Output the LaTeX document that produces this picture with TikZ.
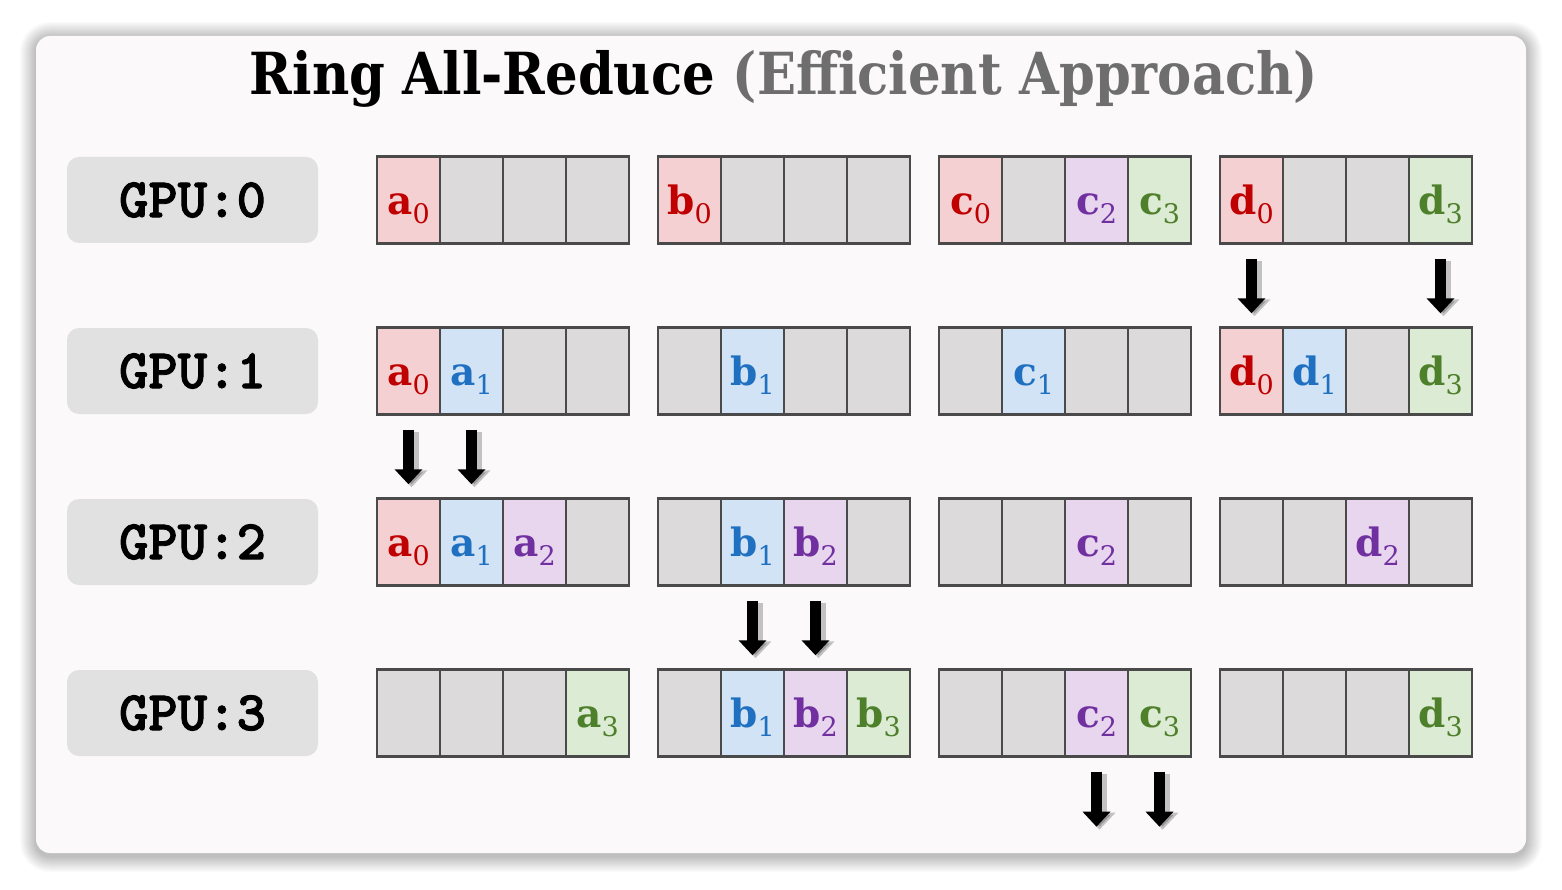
\documentclass[tikz,border=0pt]{standalone}
\usepackage{fontspec}
\setmainfont{DejaVu Serif}
\newfontfamily\titlefont{DejaVu Serif Condensed}
\newfontfamily\gpufont{lmmonolt10-bold}[Extension=.otf, FakeBold=1.6]
\usetikzlibrary{arrows.meta}
\definecolor{panel}{HTML}{FBF9FA}
\definecolor{gpugray}{HTML}{E1E1E1}
\definecolor{cellgray}{HTML}{DCDADB}
\definecolor{border}{HTML}{4A4A4A}
\definecolor{tgray}{HTML}{6E6E6E}
\definecolor{fill0}{HTML}{F4D0D3}
\definecolor{txt0}{HTML}{C00000}
\definecolor{fill1}{HTML}{D2E3F5}
\definecolor{txt1}{HTML}{1F70C1}
\definecolor{fill2}{HTML}{E8D5EE}
\definecolor{txt2}{HTML}{7030A0}
\definecolor{fill3}{HTML}{DCEBD3}
\definecolor{txt3}{HTML}{4E7F2A}
\newcommand\lbl[2]{\if x#2\else\textbf{#1}\raisebox{-9pt}{\fontsize{27}{27}\selectfont #2}\fi}
\newcommand\cellrow[2]{%
  \foreach \L/\D [count=\i from 0] in {#2}{%
    \pgfmathtruncatemacro\g{floor(\i/4)}%
    \pgfmathtruncatemacro\k{mod(\i,4)}%
    \pgfmathsetmacro\cx{408.5+281*\g+63*\k}%
    \pgfmathsetmacro\cy{200+171*#1}%
    \node[cell, k\D] (c#1-\i) at (\cx,\cy) {\lbl\L\D};
  }}
\newcommand\dnarrow[2]{%
  \draw[arrsh] ([shift={(3pt,-16pt)}]#1.south) -- ([shift={(3pt,10pt)}]#2);
  \draw[arr] ([yshift=-14pt]#1.south) -- ([yshift=13pt]#2);}
\tikzset{
  cell/.style={rectangle, draw=border, line width=2.4pt, minimum width=63pt,
    minimum height=87pt, inner sep=0pt, text height=30pt, text depth=1pt,
    font=\fontsize{39}{39}\selectfont},
  kx/.style={fill=cellgray},
  k0/.style={fill=fill0, text=txt0},
  k1/.style={fill=fill1, text=txt1},
  k2/.style={fill=fill2, text=txt2},
  k3/.style={fill=fill3, text=txt3},
  gpubox/.style={fill=gpugray, rounded corners=12pt, minimum width=251pt,
    minimum height=86pt, inner sep=0pt, font=\gpufont\fontsize{56}{56}\selectfont},
  arr/.style={draw=black, line width=11pt, -{Triangle[width=27pt,length=15pt]}},
  arrsh/.style={draw=black, opacity=0.22, line width=14pt, -{Triangle[width=31pt,length=17pt]}},
}
\begin{document}
\begin{tikzpicture}[x=1pt,y=-1pt]
\useasboundingbox (0,0) rectangle (1562,890);
\fill[white] (0,0) rectangle (1562,890);
\foreach \s in {1,...,16}{
  \pgfmathsetmacro\rc{14+\s}
  \fill[black, opacity=0.016, rounded corners=\rc pt] (36-\s,38-\s) rectangle (1526+\s,856+\s);
}
\fill[panel, rounded corners=14pt] (36,36) rectangle (1526,853);
\node[anchor=base, inner sep=0pt] (title) at (784,95) {\scalebox{0.982}[1]{\titlefont\bfseries\fontsize{58}{58}\selectfont Ring All-Reduce {\color{tgray}(Efficient Approach)}}};
\node[gpubox] (gpu0) at (192.5,200) {GPU:0};
\node[gpubox] (gpu1) at (192.5,371) {GPU:1};
\node[gpubox] (gpu2) at (192.5,542) {GPU:2};
\node[gpubox] (gpu3) at (192.5,713) {GPU:3};
\cellrow{0}{a/0,x/x,x/x,x/x,b/0,x/x,x/x,x/x,c/0,x/x,c/2,c/3,d/0,x/x,x/x,d/3}
\cellrow{1}{a/0,a/1,x/x,x/x,x/x,b/1,x/x,x/x,x/x,c/1,x/x,x/x,d/0,d/1,x/x,d/3}
\cellrow{2}{a/0,a/1,a/2,x/x,x/x,b/1,b/2,x/x,x/x,x/x,c/2,x/x,x/x,x/x,d/2,x/x}
\cellrow{3}{x/x,x/x,x/x,a/3,x/x,b/1,b/2,b/3,x/x,x/x,c/2,c/3,x/x,x/x,x/x,d/3}
\coordinate (out10) at ([yshift=-82pt]c3-10.south);
\coordinate (out11) at ([yshift=-82pt]c3-11.south);
\dnarrow{c0-12}{c1-12.north}
\dnarrow{c0-15}{c1-15.north}
\dnarrow{c1-0}{c2-0.north}
\dnarrow{c1-1}{c2-1.north}
\dnarrow{c2-5}{c3-5.north}
\dnarrow{c2-6}{c3-6.north}
\dnarrow{c3-10}{out10}
\dnarrow{c3-11}{out11}
\end{tikzpicture}
\end{document}
